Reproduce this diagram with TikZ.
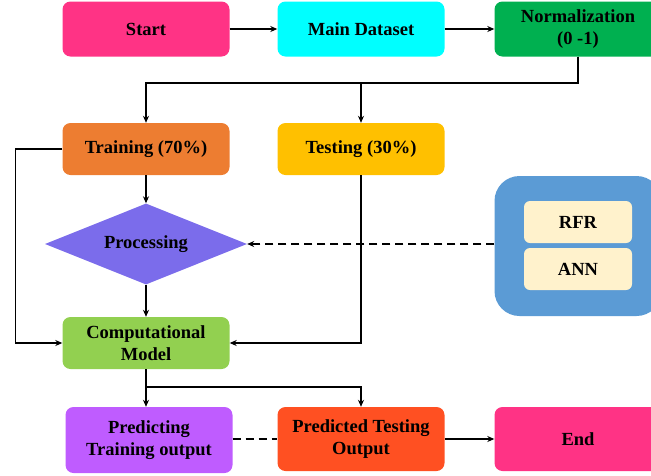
\documentclass[tikz,border=0pt]{standalone}
\usepackage{fontspec}
\setmainfont{Liberation Serif}
\usetikzlibrary{arrows.meta,shapes.geometric}

\definecolor{startpink}{HTML}{FF3385}
\definecolor{datacyan}{HTML}{00FFFF}
\definecolor{normgreen}{HTML}{00B050}
\definecolor{trainorange}{HTML}{ED7D31}
\definecolor{testgold}{HTML}{FFC000}
\definecolor{procviolet}{HTML}{7B6CEB}
\definecolor{modelblue}{HTML}{5B9BD5}
\definecolor{methodcream}{HTML}{FFF2CC}
\definecolor{compgreen}{HTML}{92D050}
\definecolor{predpurple}{HTML}{BF5CFF}
\definecolor{predred}{HTML}{FF5022}

\begin{document}
\begin{tikzpicture}[x=1pt, y=-1pt]
        % Style definitions
        \tikzset{
            box/.style={rounded corners=8pt, minimum width=167pt, minimum height=55pt, align=center, inner sep=2pt,
                font=\fontsize{18.5}{22}\selectfont\bfseries},
            method/.style={box, fill=methodcream, minimum width=108pt, minimum height=42pt, rounded corners=6pt},
            link/.style={black, line width=1.5pt, -{Stealth[length=7pt, width=6pt]}},
            dashlink/.style={link, dashed, dash pattern=on 8pt off 5pt}
        }
        \useasboundingbox (0,0) rectangle (651,475);

        % ==========================================
        % TOP ROW
        % ==========================================
        \node[box, fill=startpink] (start) at (146,29) {Start};
        \node[box, fill=datacyan] (data) at (361,29) {Main Dataset};
        \node[box, fill=normgreen] (norm) at (578,29) {Normalization\\(0 -1)};

        % ==========================================
        % SPLIT
        % ==========================================
        \node[box, fill=trainorange, minimum height=52pt] (train) at (146,149) {Training (70\%)};
        \node[box, fill=testgold, minimum height=52pt] (test) at (361,149) {Testing (30\%)};
        \node[diamond, fill=procviolet, inner sep=0pt, aspect=2.5, minimum width=202pt, minimum height=81pt,
            font=\fontsize{18.5}{22}\selectfont\bfseries] (proc) at (146,244) {Processing};

        % Model box with its methods
        \node[rounded corners=25pt, fill=modelblue, minimum width=167pt, minimum height=140pt] (model) at (578,246) {};
        \node[method] (rfr) at (578,222) {RFR};
        \node[method] (ann) at (578,269) {ANN};

        \node[box, fill=compgreen, minimum height=52pt] (comp) at (146,343) {Computational\\Model};

        % ==========================================
        % BOTTOM ROW
        % ==========================================
        \node[box, fill=predpurple, minimum height=66pt] (predtrain) at (149,440) {Predicting\\Training output};
        \node[box, fill=predred, minimum height=64pt] (predtest) at (361,439) {Predicted Testing\\Output};
        \node[box, fill=startpink, minimum height=64pt] (finish) at (578,439) {End};

        % Connectors
        \draw[link] (start) -- (data);
        \draw[link] (data) -- (norm);
        \draw[link] (norm.south) |- (146,83) -- (train.north);
        \draw[link] (norm.south) |- (361,83) -- (test.north);
        \draw[link] (train) -- (proc);
        \draw[link] (proc) -- (comp);
        \draw[link] (train.west) -- ++(-47,0) |- (comp.west);
        \draw[link] (test.south) |- (comp.east);
        \draw[dashlink] (model.west |- proc.east) -- (proc.east);
        \draw[link] (comp.south) -- (comp.south |- predtrain.north);
        \draw[link] (comp.south) -- ++(0,18) -| (predtest.north);
        \draw[dashlink, -] (predtrain.east |- predtest.west) -- (predtest.west);
        \draw[link] (predtest) -- (finish);
    \end{tikzpicture}
\end{document}
